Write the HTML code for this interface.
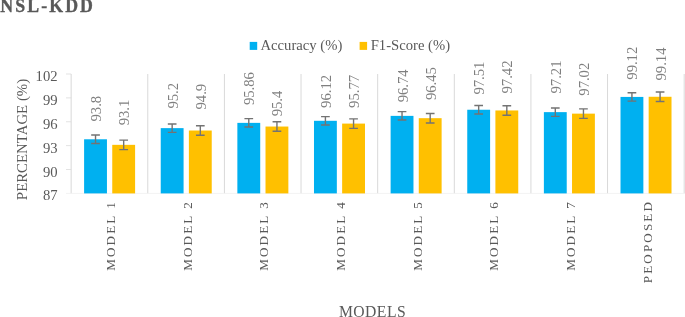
<!DOCTYPE html><html><head><meta charset="utf-8"><style>html,body{margin:0;padding:0;background:#fff;overflow:hidden}svg{display:block;will-change:transform}text{font-family:"Liberation Serif",serif}</style></head><body>
<svg width="685" height="317" viewBox="0 0 685 317">
<rect width="685" height="317" fill="#fff"/>
<text x="0.3" y="12" font-size="17.8" font-weight="bold" letter-spacing="2.1" fill="#595959" stroke="#595959" stroke-width="0.35">NSL-KDD</text>
<rect x="249.7" y="41.9" width="7.5" height="8" fill="#00B0F0"/>
<text x="260.5" y="49.6" font-size="14.67" fill="#595959">Accuracy (%)</text>
<rect x="359.6" y="41.9" width="7.5" height="8" fill="#FFC000"/>
<text x="370.7" y="49.6" font-size="14.67" fill="#595959">F1-Score (%)</text>
<line x1="71.15" y1="74.0" x2="71.15" y2="193.4" stroke="#D9D9D9" stroke-width="1"/>
<line x1="147.78" y1="74.0" x2="147.78" y2="193.4" stroke="#D9D9D9" stroke-width="1"/>
<line x1="224.41" y1="74.0" x2="224.41" y2="193.4" stroke="#D9D9D9" stroke-width="1"/>
<line x1="301.04" y1="74.0" x2="301.04" y2="193.4" stroke="#D9D9D9" stroke-width="1"/>
<line x1="377.67" y1="74.0" x2="377.67" y2="193.4" stroke="#D9D9D9" stroke-width="1"/>
<line x1="454.30" y1="74.0" x2="454.30" y2="193.4" stroke="#D9D9D9" stroke-width="1"/>
<line x1="530.93" y1="74.0" x2="530.93" y2="193.4" stroke="#D9D9D9" stroke-width="1"/>
<line x1="607.56" y1="74.0" x2="607.56" y2="193.4" stroke="#D9D9D9" stroke-width="1"/>
<line x1="684.19" y1="74.0" x2="684.19" y2="193.4" stroke="#D9D9D9" stroke-width="1"/>
<line x1="66" y1="74.00" x2="71.15" y2="74.00" stroke="#D9D9D9" stroke-width="0.75"/>
<text x="57.6" y="81.00" font-size="14.67" fill="#595959" text-anchor="end">102</text>
<line x1="66" y1="97.88" x2="71.15" y2="97.88" stroke="#D9D9D9" stroke-width="0.75"/>
<text x="57.6" y="104.88" font-size="14.67" fill="#595959" text-anchor="end">99</text>
<line x1="66" y1="121.76" x2="71.15" y2="121.76" stroke="#D9D9D9" stroke-width="0.75"/>
<text x="57.6" y="128.76" font-size="14.67" fill="#595959" text-anchor="end">96</text>
<line x1="66" y1="145.64" x2="71.15" y2="145.64" stroke="#D9D9D9" stroke-width="0.75"/>
<text x="57.6" y="152.64" font-size="14.67" fill="#595959" text-anchor="end">93</text>
<line x1="66" y1="169.52" x2="71.15" y2="169.52" stroke="#D9D9D9" stroke-width="0.75"/>
<text x="57.6" y="176.52" font-size="14.67" fill="#595959" text-anchor="end">90</text>
<text x="57.6" y="200.40" font-size="14.67" fill="#595959" text-anchor="end">87</text>
<line x1="66" y1="193.4" x2="685" y2="193.4" stroke="#EDEDED" stroke-width="0.75"/>
<rect x="84.10" y="139.27" width="22.85" height="54.13" fill="#00B0F0"/>
<path d="M91.18 135.07H99.88M95.53 135.07V143.47M91.18 143.47H99.88" stroke="#737373" stroke-width="1.4" fill="none"/>
<text transform="translate(100.98 121.50) rotate(-90)" font-size="14.67" fill="#7F7F7F">93.8</text>
<rect x="112.25" y="144.84" width="22.85" height="48.56" fill="#FFC000"/>
<path d="M119.33 140.09H128.03M123.68 140.09V149.59M119.33 149.59H128.03" stroke="#737373" stroke-width="1.4" fill="none"/>
<text transform="translate(129.13 125.30) rotate(-90)" font-size="14.67" fill="#7F7F7F">93.1</text>
<text transform="translate(115.09 200.0) rotate(-90)" font-size="13.1" letter-spacing="2.12" fill="#595959" text-anchor="end">MODEL 1</text>
<rect x="160.73" y="128.13" width="22.85" height="65.27" fill="#00B0F0"/>
<path d="M167.81 123.93H176.50M172.16 123.93V132.33M167.81 132.33H176.50" stroke="#737373" stroke-width="1.4" fill="none"/>
<text transform="translate(177.61 108.60) rotate(-90)" font-size="14.67" fill="#7F7F7F">95.2</text>
<rect x="188.88" y="130.52" width="22.85" height="62.88" fill="#FFC000"/>
<path d="M195.96 125.77H204.66M200.31 125.77V135.27M195.96 135.27H204.66" stroke="#737373" stroke-width="1.4" fill="none"/>
<text transform="translate(205.76 109.50) rotate(-90)" font-size="14.67" fill="#7F7F7F">94.9</text>
<text transform="translate(191.72 200.0) rotate(-90)" font-size="13.1" letter-spacing="2.12" fill="#595959" text-anchor="end">MODEL 2</text>
<rect x="237.36" y="122.87" width="22.85" height="70.53" fill="#00B0F0"/>
<path d="M244.44 118.67H253.13M248.78 118.67V127.07M244.44 127.07H253.13" stroke="#737373" stroke-width="1.4" fill="none"/>
<text transform="translate(254.24 105.10) rotate(-90)" font-size="14.67" fill="#7F7F7F">95.86</text>
<rect x="265.51" y="126.54" width="22.85" height="66.86" fill="#FFC000"/>
<path d="M272.58 121.79H281.29M276.94 121.79V131.29M272.58 131.29H281.29" stroke="#737373" stroke-width="1.4" fill="none"/>
<text transform="translate(282.39 116.30) rotate(-90)" font-size="14.67" fill="#7F7F7F">95.4</text>
<text transform="translate(268.35 200.0) rotate(-90)" font-size="13.1" letter-spacing="2.12" fill="#595959" text-anchor="end">MODEL 3</text>
<rect x="313.99" y="120.80" width="22.85" height="72.60" fill="#00B0F0"/>
<path d="M321.06 116.60H329.76M325.41 116.60V125.00M321.06 125.00H329.76" stroke="#737373" stroke-width="1.4" fill="none"/>
<text transform="translate(330.87 107.90) rotate(-90)" font-size="14.67" fill="#7F7F7F">96.12</text>
<rect x="342.14" y="123.59" width="22.85" height="69.81" fill="#FFC000"/>
<path d="M349.21 118.84H357.92M353.56 118.84V128.34M349.21 128.34H357.92" stroke="#737373" stroke-width="1.4" fill="none"/>
<text transform="translate(359.02 107.90) rotate(-90)" font-size="14.67" fill="#7F7F7F">95.77</text>
<text transform="translate(344.98 200.0) rotate(-90)" font-size="13.1" letter-spacing="2.12" fill="#595959" text-anchor="end">MODEL 4</text>
<rect x="390.62" y="115.87" width="22.85" height="77.53" fill="#00B0F0"/>
<path d="M397.69 111.67H406.39M402.04 111.67V120.07M397.69 120.07H406.39" stroke="#737373" stroke-width="1.4" fill="none"/>
<text transform="translate(407.50 102.30) rotate(-90)" font-size="14.67" fill="#7F7F7F">96.74</text>
<rect x="418.77" y="118.18" width="22.85" height="75.22" fill="#FFC000"/>
<path d="M425.84 113.43H434.55M430.19 113.43V122.93M425.84 122.93H434.55" stroke="#737373" stroke-width="1.4" fill="none"/>
<text transform="translate(435.65 100.10) rotate(-90)" font-size="14.67" fill="#7F7F7F">96.45</text>
<text transform="translate(421.61 200.0) rotate(-90)" font-size="13.1" letter-spacing="2.12" fill="#595959" text-anchor="end">MODEL 5</text>
<rect x="467.25" y="109.74" width="22.85" height="83.66" fill="#00B0F0"/>
<path d="M474.32 105.54H483.02M478.67 105.54V113.94M474.32 113.94H483.02" stroke="#737373" stroke-width="1.4" fill="none"/>
<text transform="translate(484.13 94.60) rotate(-90)" font-size="14.67" fill="#7F7F7F">97.51</text>
<rect x="495.40" y="110.46" width="22.85" height="82.94" fill="#FFC000"/>
<path d="M502.47 105.71H511.18M506.82 105.71V115.21M502.47 115.21H511.18" stroke="#737373" stroke-width="1.4" fill="none"/>
<text transform="translate(512.28 93.50) rotate(-90)" font-size="14.67" fill="#7F7F7F">97.42</text>
<text transform="translate(498.24 200.0) rotate(-90)" font-size="13.1" letter-spacing="2.12" fill="#595959" text-anchor="end">MODEL 6</text>
<rect x="543.88" y="112.13" width="22.85" height="81.27" fill="#00B0F0"/>
<path d="M550.95 107.93H559.65M555.30 107.93V116.33M550.95 116.33H559.65" stroke="#737373" stroke-width="1.4" fill="none"/>
<text transform="translate(560.76 93.50) rotate(-90)" font-size="14.67" fill="#7F7F7F">97.21</text>
<rect x="572.03" y="113.64" width="22.85" height="79.76" fill="#FFC000"/>
<path d="M579.10 108.89H587.80M583.45 108.89V118.39M579.10 118.39H587.80" stroke="#737373" stroke-width="1.4" fill="none"/>
<text transform="translate(588.91 95.70) rotate(-90)" font-size="14.67" fill="#7F7F7F">97.02</text>
<text transform="translate(574.87 200.0) rotate(-90)" font-size="13.1" letter-spacing="2.12" fill="#595959" text-anchor="end">MODEL 7</text>
<rect x="620.51" y="96.92" width="22.85" height="96.48" fill="#00B0F0"/>
<path d="M627.58 92.72H636.28M631.93 92.72V101.12M627.58 101.12H636.28" stroke="#737373" stroke-width="1.4" fill="none"/>
<text transform="translate(637.39 79.70) rotate(-90)" font-size="14.67" fill="#7F7F7F">99.12</text>
<rect x="648.66" y="96.77" width="22.85" height="96.63" fill="#FFC000"/>
<path d="M655.73 92.02H664.43M660.08 92.02V101.52M655.73 101.52H664.43" stroke="#737373" stroke-width="1.4" fill="none"/>
<text transform="translate(665.54 80.50) rotate(-90)" font-size="14.67" fill="#7F7F7F">99.14</text>
<text transform="translate(651.50 200.0) rotate(-90)" font-size="13.1" letter-spacing="2.12" fill="#595959" text-anchor="end">PEOPOSED</text>
<text transform="translate(27.4 139.5) rotate(-90)" font-size="14.85" fill="#595959" text-anchor="middle">PERCENTAGE (%)</text>
<text x="372.5" y="316.6" font-size="15.7" letter-spacing="0.45" fill="#595959" text-anchor="middle">MODELS</text>
</svg></body></html>
